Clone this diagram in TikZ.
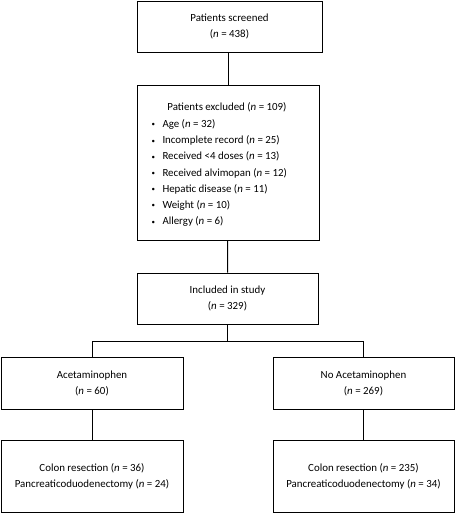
\documentclass[tikz,border=0pt]{standalone}
\usepackage{fontspec}
\setmainfont{Carlito}

\newcommand{\exclitem}{\makebox[11pt][l]{\raisebox{0.6pt}{\fontsize{7}{7}\selectfont\textbullet}}}

\begin{document}
\begin{tikzpicture}[x=1pt,y=-1pt,line width=1pt,
    box/.style={draw,rectangle,align=center,inner sep=0pt,font=\fontsize{10.9}{16}\selectfont},
    txt/.style={inner sep=0pt,font=\fontsize{10.9}{16.2}\selectfont}]
    \useasboundingbox (0,0) rectangle (456,514);
    \node[box,minimum width=185pt,minimum height=51pt] (scr) at (229.5,26.5) {Patients screened\\(\textit{n} = 438)};
    \node[box,minimum width=182pt,minimum height=155pt] (excl) at (228,162.5) {};
    \node[txt] (exclhead) at (227,107) {Patients excluded (\textit{n} = 109)};
    \node[txt,anchor=north west,align=left] (excllist) at (151,119) {%
        \exclitem Age (\textit{n} = 32)\\
        \exclitem Incomplete record (\textit{n} = 25)\\
        \exclitem Received <4 doses (\textit{n} = 13)\\
        \exclitem Received alvimopan (\textit{n} = 12)\\
        \exclitem Hepatic disease (\textit{n} = 11)\\
        \exclitem Weight (\textit{n} = 10)\\
        \exclitem Allergy (\textit{n} = 6)};
    \node[box,minimum width=181pt,minimum height=51pt] (incl) at (227.5,298.5) {Included in study\\(\textit{n} = 329)};
    \node[box,minimum width=182pt,minimum height=52pt] (acet) at (92,383) {Acetaminophen\\(\textit{n} = 60)};
    \node[box,minimum width=181pt,minimum height=52pt] (noacet) at (363.5,383) {No Acetaminophen\\(\textit{n} = 269)};
    \node[box,minimum width=182pt,minimum height=72pt] (acetop) at (92,476) {Colon resection (\textit{n} = 36)\\Pancreaticoduodenectomy (\textit{n} = 24)};
    \node[box,minimum width=181pt,minimum height=72pt] (noacetop) at (363.5,476) {Colon resection (\textit{n} = 235)\\Pancreaticoduodenectomy (\textit{n} = 34)};
    \draw (scr.south -| excl) -- (excl.north);
    \draw (excl) -- (incl);
    \coordinate (split) at ([yshift=-17pt]incl.south);
    \draw (incl.south) -- (split);
    \draw (acet.north) |- (split) -| (noacet.north);
    \draw (acet) -- (acetop);
    \draw (noacet) -- (noacetop);
\end{tikzpicture}
\end{document}
